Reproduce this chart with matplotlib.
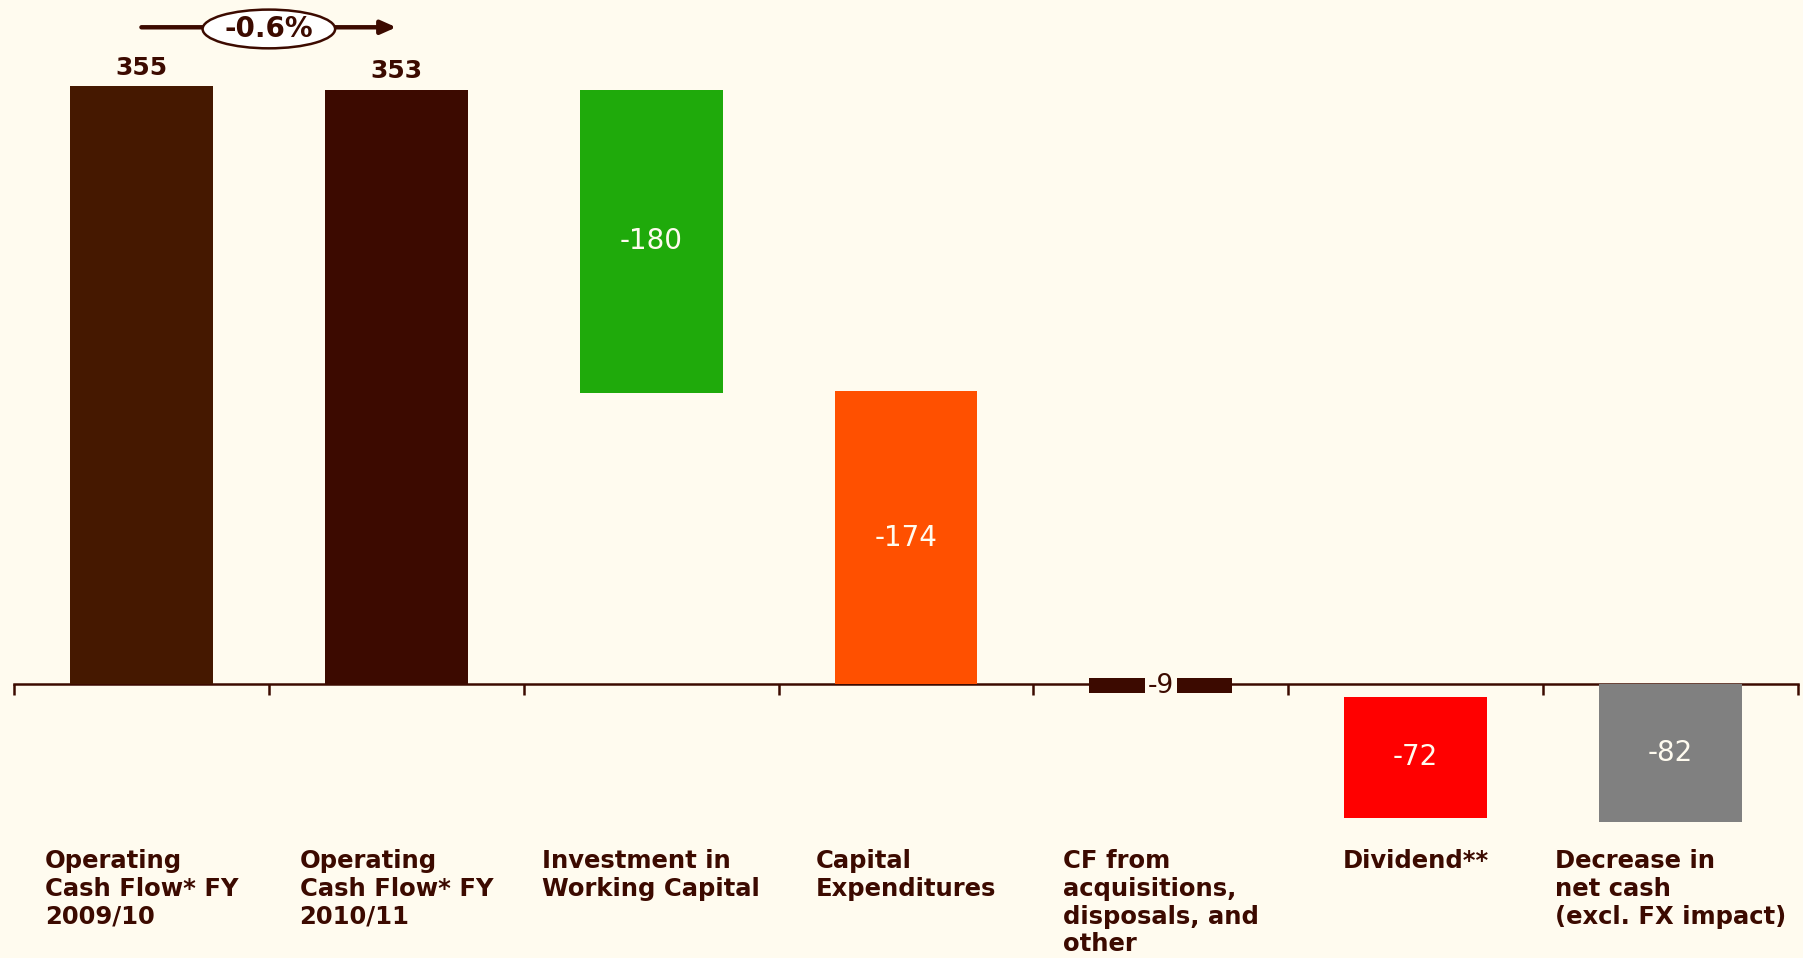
import numpy as np
import matplotlib
matplotlib.use("Agg")
import matplotlib.pyplot as plt
from matplotlib.patches import Ellipse

# Data
categories = ["Operating\nCash Flow* FY\n2009/10",
              "Operating\nCash Flow* FY\n2010/11",
              "Investment in\nWorking Capital",
              "Capital\nExpenditures",
              "CF from\nacquisitions,\ndisposals, and\nother",
              "Dividend**",
              "Decrease in\nnet cash\n(excl. FX impact)"]
values = [355, 353, -180, -174, -9, -72, -82]
starts = [0, 0, 353, 174, 3.5, -7.5, 0]
change_label = "-0.6%"

bg = "#FFFBEF"
dark = "#3C0A00"
colors = ["#451800", "#3C0A00", "#1FAA0B", "#FF5000", "#3C0A00", "#FF0000", "#808080"]

fig = plt.figure(figsize=(18.03, 9.58), dpi=100, facecolor=bg)
ax = fig.add_axes([14 / 1803, 0, 1784 / 1803, 1])
ax.set_facecolor(bg)

x = np.arange(len(categories))
ax.bar(x, values, bottom=starts, width=0.56, color=colors, zorder=2)

ax.set_xlim(-0.5, len(categories) - 0.5)
ax.set_ylim(-162.7, 406.2)

for s in ["top", "left", "right"]:
    ax.spines[s].set_visible(False)
ax.spines["bottom"].set_position(("data", 0))
ax.spines["bottom"].set_color(dark)
ax.spines["bottom"].set_linewidth(1.8)
ax.spines["bottom"].set_zorder(1)
ax.set_yticks([])
ax.set_xticks(np.arange(-0.5, len(categories), 1.0))
ax.set_xticklabels([])
ax.tick_params(axis="x", direction="out", length=8, width=1.8, color=dark)

# value labels
for i, v in enumerate(values):
    if v > 0:
        ax.text(i, v + 11, str(v), ha="center", va="center", fontsize=18,
                fontweight="bold", color=dark)
    elif abs(v) < 20:
        ax.text(i, starts[i] + v / 2, str(v), ha="center", va="center", fontsize=19,
                color=dark, zorder=3,
                bbox=dict(facecolor=bg, edgecolor="none", pad=2))
    else:
        ax.text(i, starts[i] + v / 2, str(v), ha="center", va="center", fontsize=20,
                color=bg, zorder=3)

# category labels
for i, c in enumerate(categories):
    ax.text(i, -98, c, ha="center", va="top", multialignment="left", fontsize=17.5,
            fontweight="bold", color=dark, linespacing=1.2)

# growth arrow between the first two bars
ax.annotate("", xy=(1.0, 390), xytext=(0, 390),
            arrowprops=dict(arrowstyle="-|>,head_length=0.9,head_width=0.4",
                            color=dark, lw=3.2, shrinkA=0, shrinkB=0), zorder=3)
ax.add_patch(Ellipse((0.5, 389), 0.52, 23, facecolor="white", edgecolor=dark,
                     lw=1.8, zorder=4))
ax.text(0.5, 389, change_label, ha="center", va="center", fontsize=20,
        fontweight="bold", color=dark, zorder=5)

fig.savefig("out.png", dpi=100, facecolor=bg)
